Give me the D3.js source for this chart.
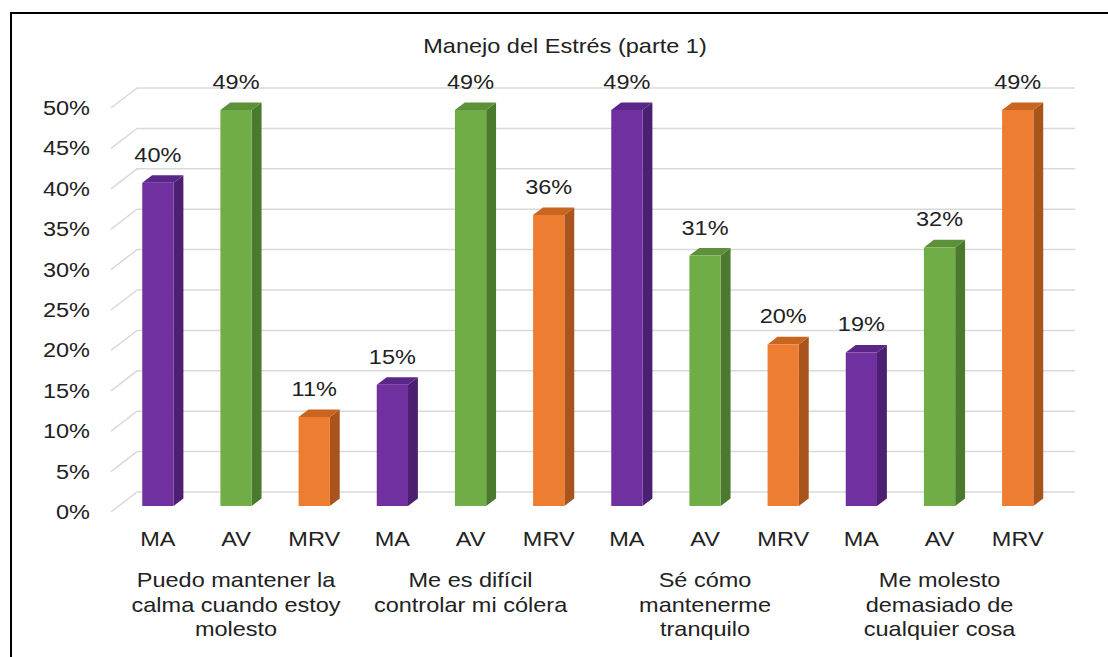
<!DOCTYPE html>
<html>
<head>
<meta charset="utf-8">
<script src="https://cdn.jsdelivr.net/npm/d3@7"></script>
<style>
  body { margin: 0; background: #fff; }
  svg { display: block; font-family: "Liberation Sans", Arial, sans-serif; }
</style>
</head>
<body>
<div id="chart"></div>
<script>
// Chart data
const title = "Manejo del Estrés (parte 1)";
const responses = ["MA", "AV", "MRV"];
const groups = [
  ["Puedo mantener la", "calma cuando estoy", "molesto"],
  ["Me es difícil", "controlar mi cólera"],
  ["Sé cómo", "mantenerme", "tranquilo"],
  ["Me molesto", "demasiado de", "cualquier cosa"]
];
const values = [40, 49, 11, 15, 49, 36, 49, 31, 20, 19, 32, 49];
const yTicks = [0, 5, 10, 15, 20, 25, 30, 35, 40, 45, 50];

// Colours per response (front, side, top)
const palette = {
  MA:  { front: "#7030A0", side: "#4C2070", top: "#5A2688" },
  AV:  { front: "#70AD47", side: "#4B7A2E", top: "#5C9139" },
  MRV: { front: "#ED7D31", side: "#A8541C", top: "#C9651F" }
};

const width = 1108;
const height = 657;
const fontSize = 21;
const stretch = 1.12; // the source picture is a bit wider than tall

// front plane of the 3D box
const x0 = 111, x1 = 1049;
const yBase = 512;
const depthX = 26, depthY = -20;

const svg = d3.select("#chart").append("svg")
  .attr("width", width)
  .attr("height", height);

// outer border (only top and left are visible)
svg.append("path")
  .attr("d", `M11,${height} L11,13 L${width},13`)
  .attr("fill", "none")
  .attr("stroke", "#000")
  .attr("stroke-width", 2);

// text helper: places a stretched label at (x, y)
function label(parent, tx, ty, str, anchor) {
  return parent.append("text")
    .attr("transform", `translate(${tx},${ty}) scale(${stretch},1)`)
    .attr("text-anchor", anchor || "middle")
    .attr("font-size", fontSize)
    .attr("fill", "#222")
    .text(str);
}

const rows = values.map((v, i) => ({
  i, v,
  resp: responses[i % 3],
  group: Math.floor(i / 3)
}));

const x = d3.scaleBand()
  .domain(rows.map(d => d.i))
  .range([x0, x1])
  .paddingInner(0.6)
  .paddingOuter(0.3);

const y = d3.scaleLinear().domain([0, 50]).range([0, 404]);

// project point: front-plane x, value, depth 0..1
function P(xf, v, d) {
  return [xf + depthX * d, yBase - y(v) + depthY * d];
}

// gridlines: back wall + left wall diagonals
const grid = svg.append("g").attr("stroke", "#D9D9D9").attr("stroke-width", 1.5).attr("fill", "none");
yTicks.forEach(t => {
  const a = P(x0, t, 0), b = P(x0, t, 1), c = P(x1, t, 1);
  grid.append("path").attr("d", `M${a}L${b}L${c}`);
});

// y axis labels
const yAxisG = svg.append("g");
yTicks.forEach(t => {
  label(yAxisG, 90, P(x0, t, 0)[1] + 7, t + "%", "end");
});

// bars
const d0 = 0.3, d1 = 0.68;
const bars = svg.append("g");
rows.forEach(r => {
  const xl = x(r.i), xr = xl + x.bandwidth();
  const c = palette[r.resp];
  const fl = P(xl, r.v, d0), fr = P(xr, r.v, d0);
  const bl0 = P(xl, 0, d0), br0 = P(xr, 0, d0);
  const tl = P(xl, r.v, d1), tr = P(xr, r.v, d1), sr0 = P(xr, 0, d1);
  // side
  bars.append("path")
    .attr("d", `M${fr}L${tr}L${sr0}L${br0}Z`)
    .attr("fill", c.side);
  // top
  bars.append("path")
    .attr("d", `M${fl}L${fr}L${tr}L${tl}Z`)
    .attr("fill", c.top);
  // front
  bars.append("path")
    .attr("d", `M${fl}L${fr}L${br0}L${bl0}Z`)
    .attr("fill", c.front);
  // value label
  label(bars, (fl[0] + fr[0]) / 2, fl[1] - 21, r.v + "%");
});

// category labels
const catG = svg.append("g");
rows.forEach(d => {
  label(catG, x(d.i) + x.bandwidth() / 2 + depthX * d0, 546, d.resp);
});

// group labels, centred under middle bar
const grpG = svg.append("g");
groups.forEach((lines, g) => {
  const mid = g * 3 + 1;
  const cx = x(mid) + x.bandwidth() / 2 + depthX * d0;
  lines.forEach((ln, k) => {
    label(grpG, cx, 587 + k * 24.5, ln);
  });
});

// title
label(svg, 565, 53, title);
</script>
</body>
</html>
